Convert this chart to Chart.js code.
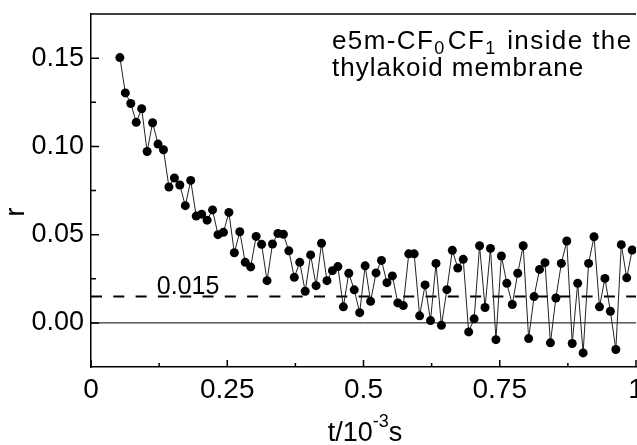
<!DOCTYPE html>
<html>
<head>
<meta charset="utf-8">
<script src="https://cdn.jsdelivr.net/npm/chart.js@4.4.1/dist/chart.umd.min.js"></script>
<style>
    html, body { margin: 0; padding: 0; background: #fff; }
    #chart { display: block; }
</style>
</head>
<body>
<canvas id="chart" width="637" height="445"></canvas>
<script>
// time in 10^-3 s
const times = [
    0.053, 0.063, 0.073, 0.083, 0.093, 0.103, 0.113, 0.123, 0.133, 0.143,
    0.153, 0.163, 0.173, 0.183, 0.193, 0.203, 0.213, 0.223, 0.233, 0.243,
    0.253, 0.263, 0.273, 0.283, 0.293, 0.303, 0.313, 0.323, 0.333, 0.343,
    0.353, 0.363, 0.373, 0.383, 0.393, 0.403, 0.413, 0.423, 0.433, 0.443,
    0.453, 0.463, 0.473, 0.483, 0.493, 0.503, 0.513, 0.523, 0.533, 0.543,
    0.553, 0.563, 0.573, 0.583, 0.593, 0.603, 0.613, 0.623, 0.633, 0.643,
    0.653, 0.663, 0.673, 0.683, 0.693, 0.703, 0.713, 0.723, 0.733, 0.743,
    0.753, 0.763, 0.773, 0.783, 0.793, 0.803, 0.813, 0.823, 0.833, 0.843,
    0.853, 0.863, 0.873, 0.883, 0.893, 0.903, 0.913, 0.923, 0.933, 0.943,
    0.953, 0.963, 0.973, 0.983, 0.993,
];

// anisotropy r
const anisotropy = [
    0.1503, 0.1303, 0.1243, 0.1136, 0.1213, 0.0971, 0.1134, 0.1013, 0.0981, 0.0770,
    0.0821, 0.0781, 0.0664, 0.0807, 0.0605, 0.0616, 0.0582, 0.0640, 0.0500, 0.0513,
    0.0626, 0.0397, 0.0516, 0.0343, 0.0317, 0.0490, 0.0445, 0.0239, 0.0447, 0.0507,
    0.0502, 0.0408, 0.0258, 0.0343, 0.0179, 0.0385, 0.0211, 0.0451, 0.0239, 0.0296,
    0.0319, 0.0091, 0.0281, 0.0187, 0.0058, 0.0323, 0.0122, 0.0283, 0.0354, 0.0228,
    0.0266, 0.0113, 0.0098, 0.0391, 0.0391, 0.0040, 0.0215, 0.0013, 0.0337, -0.0014,
    0.0188, 0.0411, 0.0311, 0.0360, -0.0051, 0.0023, 0.0437, 0.0087, 0.0422, -0.0095,
    0.0379, 0.0224, 0.0104, 0.0281, 0.0437, -0.0089, 0.0149, 0.0303, 0.0341, -0.0113,
    0.0141, 0.0337, 0.0464, -0.0117, 0.0224, -0.0170, 0.0337, 0.0488, 0.0091, 0.0252,
    0.0066, -0.0151, 0.0443, 0.0255, 0.0413,
];

const limitValue = 0.015;
const limitLabel = "0.015";
const lineRange = [0, 1];

const xTicks = [0, 0.25, 0.5, 0.75, 1];
const xTickLabels = ["0", "0.25", "0.5", "0.75", "1"];
const xMinorTicks = [0.125, 0.375, 0.625, 0.875];
const yTicks = [0, 0.05, 0.10, 0.15];
const yTickLabels = ["0.00", "0.05", "0.10", "0.15"];
const yMinorTicks = [0.025, 0.075, 0.125];

const FONT = "'Liberation Sans', Arial, Helvetica, sans-serif";

// draws the frame, the inner tick marks and the texts
const decorations = {
    id: "decorations",
    afterDraw(chart) {
        const ctx = chart.ctx;
        const area = chart.chartArea;
        const xs = chart.scales.x;
        const ys = chart.scales.y;
        ctx.save();
        ctx.strokeStyle = "#000";
        ctx.lineWidth = 1.5;
        ctx.beginPath();
        ctx.moveTo(area.left, area.top);
        ctx.lineTo(area.right, area.top);
        yTicks.forEach(v => {
            const y = ys.getPixelForValue(v);
            ctx.moveTo(area.left, y);
            ctx.lineTo(area.left + 8, y);
        });
        yMinorTicks.forEach(v => {
            const y = ys.getPixelForValue(v);
            ctx.moveTo(area.left, y);
            ctx.lineTo(area.left + 5, y);
        });
        xTicks.forEach(v => {
            const x = xs.getPixelForValue(v);
            ctx.moveTo(x, area.bottom);
            ctx.lineTo(x, area.bottom - 7);
        });
        xMinorTicks.forEach(v => {
            const x = xs.getPixelForValue(v);
            ctx.moveTo(x, area.bottom);
            ctx.lineTo(x, area.bottom - 4);
        });
        ctx.stroke();

        ctx.fillStyle = "#000";
        ctx.textBaseline = "alphabetic";

        // dashed line label
        ctx.font = "25px " + FONT;
        ctx.textAlign = "center";
        ctx.fillText(limitLabel, xs.getPixelForValue(0.178), ys.getPixelForValue(limitValue) - 2);

        // annotation
        ctx.textAlign = "left";
        ctx.letterSpacing = "1.4px";
        let x = 332;
        const parts = [["e5m-CF", 0], ["0", 1], ["CF", 0], ["1", 1], [" inside the", 0]];
        parts.forEach(p => {
            ctx.font = (p[1] ? "18px " : "26px ") + FONT;
            ctx.fillText(p[0], x, p[1] ? 54 : 49);
            x += ctx.measureText(p[0]).width + (p[1] ? 2 : 0);
        });
        ctx.letterSpacing = "1px";
        ctx.font = "26px " + FONT;
        ctx.fillText("thylakoid membrane", 332, 76);

        // x title with superscript
        ctx.letterSpacing = "0px";
        const title = [["t/10", 0], ["-3", 1], ["s", 0]];
        let total = 0;
        title.forEach(p => {
            ctx.font = (p[1] ? "18px " : "27px ") + FONT;
            total += ctx.measureText(p[0]).width;
        });
        x = 365 - total / 2;
        title.forEach(p => {
            ctx.font = (p[1] ? "18px " : "27px ") + FONT;
            ctx.fillText(p[0], x, p[1] ? 427 : 441);
            x += ctx.measureText(p[0]).width;
        });

        // y title
        ctx.font = "27px " + FONT;
        ctx.translate(17, 212);
        ctx.rotate(-Math.PI / 2);
        ctx.textAlign = "center";
        ctx.textBaseline = "middle";
        ctx.fillText("r", 0, 0);
        ctx.restore();
    },
};

const config = {
    type: "line",
    data: {
        datasets: [
            {
                label: "r",
                data: times.map((t, i) => ({ x: t, y: anisotropy[i] })),
                borderColor: "#222",
                borderWidth: 1,
                pointRadius: 4.5,
                pointBackgroundColor: "#000",
                pointBorderWidth: 0,
                tension: 0,
            },
            {
                label: "limit",
                data: lineRange.map(t => ({ x: t, y: limitValue })),
                borderColor: "#000",
                borderWidth: 2,
                borderDash: [11, 11.3],
                pointRadius: 0,
            },
            {
                label: "zero",
                data: lineRange.map(t => ({ x: t, y: 0 })),
                borderColor: "#000",
                borderWidth: 1,
                pointRadius: 0,
            },
        ],
    },
    options: {
        responsive: false,
        animation: false,
        layout: {
            autoPadding: false,
            padding: { top: 14, left: 0, right: 1, bottom: 0 },
        },
        plugins: {
            legend: { display: false },
            tooltip: { enabled: false },
        },
        scales: {
            x: {
                type: "linear",
                min: 0,
                max: 1,
                grid: { display: false, drawTicks: false },
                border: { display: true, color: "#000", width: 1.5 },
                ticks: {
                    color: "#000",
                    padding: 6,
                    maxRotation: 0,
                    font: { size: 28, family: FONT },
                    callback: (v, i) => xTickLabels[i],
                },
                afterBuildTicks: scale => {
                    scale.ticks = xTicks.map(v => ({ value: v }));
                },
                afterFit: scale => {
                    scale.height = 78;
                    scale.paddingLeft = 0;
                    scale.paddingRight = 0;
                },
            },
            y: {
                type: "linear",
                min: -0.025,
                max: 0.175,
                grid: { display: false, drawTicks: false },
                border: { display: true, color: "#000", width: 1.5 },
                ticks: {
                    color: "#000",
                    padding: 7,
                    font: { size: 27, family: FONT },
                    callback: (v, i) => yTickLabels[i],
                },
                afterBuildTicks: scale => {
                    scale.ticks = yTicks.map(v => ({ value: v }));
                },
                afterFit: scale => {
                    scale.width = 91;
                    scale.paddingTop = 0;
                    scale.paddingBottom = 0;
                },
            },
        },
    },
    plugins: [decorations],
};

new Chart(document.getElementById("chart"), config);
</script>
</body>
</html>
